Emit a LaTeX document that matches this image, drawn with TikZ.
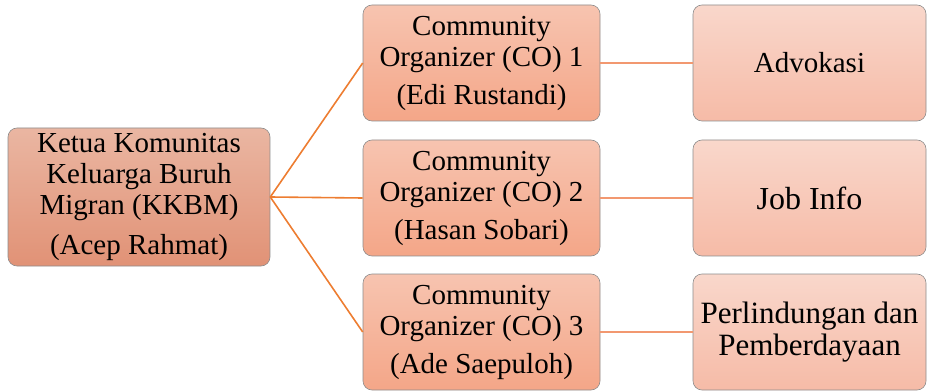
\documentclass[tikz,border=0pt]{standalone}
\usepackage{fontspec}
\setmainfont{LiberationSerif-Regular.ttf}
\begin{document}
\begin{tikzpicture}[x=1pt,y=1pt,
  basebox/.style={draw=black!45, line width=0.6pt, rounded corners=9pt, align=center,
    inner sep=0pt, font=\fontsize{29}{31}\selectfont},
  rootbox/.style={basebox, minimum width=262pt, minimum height=138pt,
    top color={rgb,255:red,234;green,182;blue,162}, bottom color={rgb,255:red,225;green,146;blue,118}},
  cobox/.style={basebox, minimum width=237pt, minimum height=116pt,
    top color={rgb,255:red,247;green,196;blue,176}, bottom color={rgb,255:red,244;green,166;blue,136}},
  leafbox/.style={basebox, minimum width=233pt, minimum height=116pt,
    top color={rgb,255:red,249;green,215;blue,203}, bottom color={rgb,255:red,246;green,187;blue,167}},
  mainlink/.style={draw={rgb,255:red,237;green,125;blue,49}, line width=1.6pt},
  leaflink/.style={draw={rgb,255:red,242;green,152;blue,112}, line width=1.6pt}
]
\useasboundingbox (0,0) rectangle (928,391);
\node[rootbox] (root) at (139,194) {Ketua Komunitas\\Keluarga Buruh\\Migran (KKBM)\\[9pt](Acep Rahmat)};
\node[cobox] (co1) at (481.5,328) {Community\\Organizer (CO) 1\\[7pt](Edi Rustandi)};
\node[cobox] (co2) at (481.5,193) {Community\\Organizer (CO) 2\\[7pt](Hasan Sobari)};
\node[cobox] (co3) at (481.5,59) {Community\\Organizer (CO) 3\\[7pt](Ade Saepuloh)};
\node[leafbox] (l1) at (809.5,328) {Advokasi};
\node[leafbox, font=\fontsize{32}{32}\selectfont] (l2) at (809.5,193) {Job Info};
\node[leafbox, font=\fontsize{31}{32}\selectfont] (l3) at (809.5,59) {Perlindungan dan\\Pemberdayaan};
\draw[mainlink] (root.east) -- (co1.west);
\draw[mainlink] (root.east) -- (co2.west);
\draw[mainlink] (root.east) -- (co3.west);
\draw[leaflink] (co1.east) -- (l1.west);
\draw[leaflink] (co2.east) -- (l2.west);
\draw[leaflink] (co3.east) -- (l3.west);
\end{tikzpicture}
\end{document}
